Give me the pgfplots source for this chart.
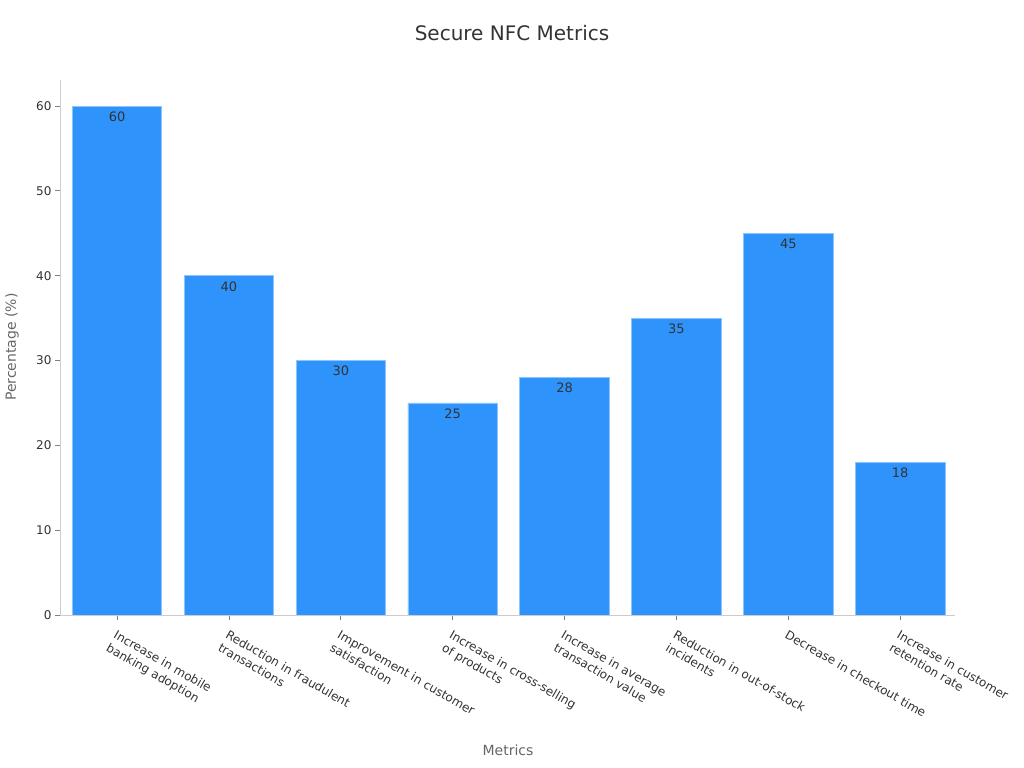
\documentclass[border=0pt]{standalone}
\usepackage{pgfplots}
\pgfplotsset{compat=1.18}
\usepackage{fontspec}
\setmainfont{DejaVu Sans}
\definecolor{barblue}{HTML}{2E93FA}
\definecolor{baredge}{HTML}{8EC5FC}
\definecolor{txt}{HTML}{333333}
\definecolor{lbl}{HTML}{666666}
\definecolor{axl}{HTML}{CCCCCC}
\begin{document}
\begin{tikzpicture}
\useasboundingbox (0,0) rectangle (1024bp,768bp);
\begin{axis}[
  at={(60bp,153bp)}, anchor=south west,
  scale only axis, width=895bp, height=535bp,
  xmin=-0.51, xmax=7.49, ymin=0, ymax=63.07,
  axis lines*=left,
  axis line style={draw=axl, line width=0.8bp},
  tick align=outside,
  major tick length=5bp,
  tick style={draw=gray, line width=0.8bp},
  xtick={0,1,2,3,4,5,6,7},
  ytick={0,10,20,30,40,50,60},
  xticklabels={{Increase in mobile\\banking adoption},{Reduction in fraudulent\\transactions},{Improvement in customer\\satisfaction},{Increase in cross-selling\\of products},{Increase in average\\transaction value},{Reduction in out-of-stock\\incidents},{Decrease in checkout time},{Increase in customer\\retention rate}},
  xticklabel style={yshift=-8bp, rotate=-30, anchor=north west, align=left, font=\fontsize{12bp}{15bp}\selectfont, text=txt, inner sep=1bp},
  yticklabel style={font=\fontsize{12bp}{14bp}\selectfont, text=txt},
  /pgf/number format/assume math mode=true,
  ybar, bar width=0.8,
  nodes near coords,
  every node near coord/.append style={anchor=north, yshift=-2bp, font=\fontsize{13bp}{15bp}\selectfont, text=txt},
]
\addplot[fill=barblue, draw=baredge, line width=0.8bp] coordinates {
(0,60) (1,40) (2,30) (3,25) (4,28) (5,35) (6,45) (7,18)};
\end{axis}
\node[font=\fontsize{20bp}{22bp}\selectfont, text=txt] at (512bp,735bp) {Secure NFC Metrics};
\node[font=\fontsize{14bp}{16bp}\selectfont, text=lbl] at (508bp,18bp) {Metrics};
\node[font=\fontsize{14bp}{16bp}\selectfont, text=lbl, rotate=90] at (12bp,421bp) {Percentage (\%)};
\end{tikzpicture}
\end{document}
